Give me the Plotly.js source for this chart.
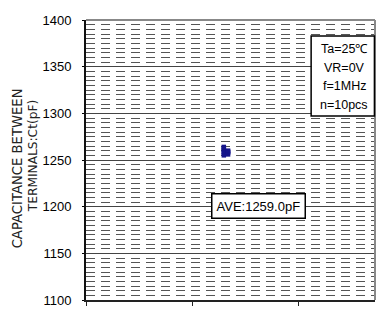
<!DOCTYPE html>
<html>
<head>
<meta charset="utf-8">
<script src="https://cdn.plot.ly/plotly-3.0.1.min.js"></script>
<style>html,body{margin:0;padding:0;background:#fff;}#chart{width:378px;height:310px;}</style>
</head>
<body>
<div id="chart"></div>
<script>
// Measured samples (n = 10), capacitance in pF
const sampleX = [1.30, 1.30, 1.30, 1.30, 1.30, 1.30, 1.34, 1.34, 1.34, 1.34];
const capacitance = [1255, 1257, 1259, 1261, 1263, 1264, 1256, 1258, 1259, 1260];
const yTicks = [1100, 1150, 1200, 1250, 1300, 1350, 1400];
const conditionLines = ["Ta=25\u2103", "VR=0V", "f=1MHz", "n=10pcs"];
const averageLabel = "AVE:1259.0pF";
const yTitleLines = ["CAPACITANCE BETWEEN", "TERMINALS:Ct(pF)"];

const FONT = "Liberation Sans, Arial, sans-serif";

const trace = {
  x: sampleX, y: capacitance, type: "scatter", mode: "markers",
  marker: {symbol: "square", size: 4.5, color: "#14148a"},
  hoverinfo: "skip"
};

const annotations = [];
conditionLines.forEach((t, i) => {
  annotations.push({
    xref: "paper", yref: "paper", x: 0.893, y: 0.896 - i * 0.0665,
    text: t, showarrow: false, xanchor: "center", yanchor: "middle",
    font: {family: FONT, size: 12.5, color: "#000"}
  });
});
annotations.push({
  xref: "paper", yref: "paper", x: 0.597, y: 0.3375,
  text: averageLabel, showarrow: false, xanchor: "center", yanchor: "middle",
  font: {family: FONT, size: 13, color: "#000"},
  bordercolor: "#000", borderwidth: 1.5, borderpad: 4, bgcolor: "#fff"
});
annotations.push({
  xref: "paper", yref: "paper", x: -0.238, y: 0.471,
  text: yTitleLines[0], showarrow: false, textangle: -90,
  xanchor: "center", yanchor: "middle",
  font: {family: "DejaVu Sans, sans-serif", size: 13.2, color: "#222"}
});
annotations.push({
  xref: "paper", yref: "paper", x: -0.183, y: 0.514,
  text: yTitleLines[1], showarrow: false, textangle: -90,
  xanchor: "center", yanchor: "middle",
  font: {family: "DejaVu Sans, sans-serif", size: 12.2, color: "#222"}
});

const layout = {
  width: 378, height: 310,
  margin: {l: 86, r: 3, t: 20, b: 10},
  paper_bgcolor: "#fff", plot_bgcolor: "#fff",
  showlegend: false,
  xaxis: {
    range: [0, 2.726], tickvals: [0, 1, 2], showticklabels: false,
    ticks: "outside", ticklen: 4, tickcolor: "#222", tickwidth: 1,
    showgrid: false, zeroline: false,
    showline: true, linecolor: "#222", linewidth: 2
  },
  yaxis: {
    range: [1100, 1400], tickvals: yTicks,
    ticks: "outside", ticklen: 2, tickcolor: "#000",
    tickfont: {family: FONT, size: 13, color: "#000"},
    ticklabelstandoff: 8,
    showgrid: true, gridcolor: "#444", gridwidth: 1,
    zeroline: false,
    showline: true, linecolor: "#111", linewidth: 2,
    minor: {dtick: 5, showgrid: true, gridcolor: "#555", gridwidth: 1, griddash: "9px,6px", ticks: ""}
  },
  shapes: [
    {type: "line", xref: "paper", yref: "paper", x0: 0, x1: 1, y0: 1, y1: 1, line: {color: "#888", width: 2}},
    {type: "line", xref: "paper", yref: "paper", x0: 1, x1: 1, y0: 0, y1: 1, line: {color: "#888", width: 2}},
    {type: "rect", xref: "paper", yref: "paper", x0: 0.779, x1: 0.998, y0: 0.657, y1: 0.943,
     line: {color: "#000", width: 1.5}, fillcolor: "#fff", layer: "above"}
  ],
  annotations: annotations
};

Plotly.newPlot("chart", [trace], layout, {staticPlot: true, displayModeBar: false});
</script>
</body>
</html>
